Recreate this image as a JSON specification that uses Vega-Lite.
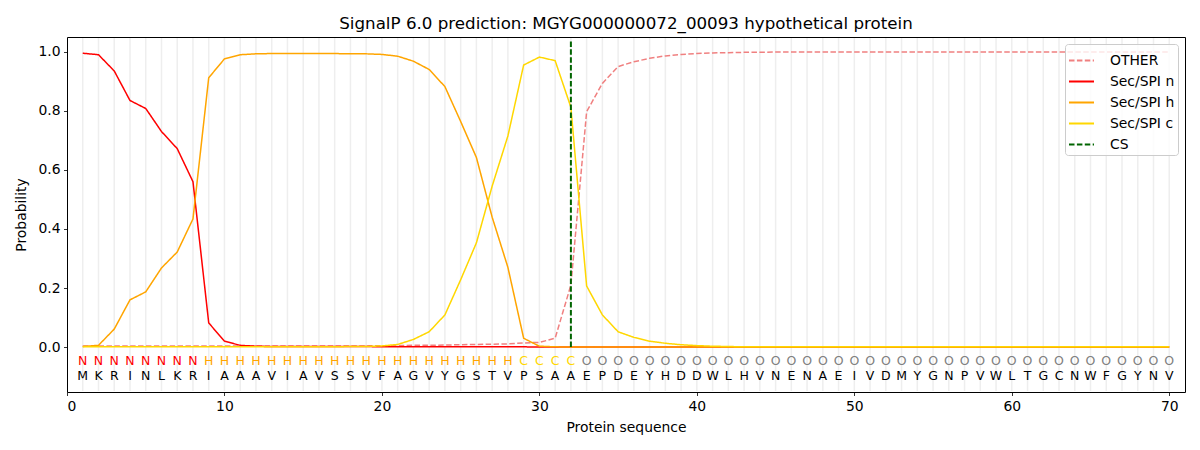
{
  "$schema": "https://vega.github.io/schema/vega-lite/v6.json",
  "description": "SignalP 6.0 per-residue probabilities",
  "width": 1118,
  "height": 355,
  "autosize": {"type": "none"},
  "padding": {"left": 67, "top": 37, "right": 15, "bottom": 58},
  "title": {
    "text": "SignalP 6.0 prediction: MGYG000000072_00093 hypothetical protein",
    "font": "DejaVu Sans",
    "fontSize": 16.7,
    "fontWeight": "normal",
    "color": "#000000",
    "anchor": "middle",
    "offset": 4
  },
  "datasets": {
    "seq": [
      {"pos": 1, "aa": "M", "reg": "N", "other": 0.004, "n": 0.995, "h": 0.002, "c": 0.001},
      {"pos": 2, "aa": "K", "reg": "N", "other": 0.004, "n": 0.99, "h": 0.006, "c": 0.001},
      {"pos": 3, "aa": "R", "reg": "N", "other": 0.004, "n": 0.935, "h": 0.061, "c": 0.001},
      {"pos": 4, "aa": "I", "reg": "N", "other": 0.004, "n": 0.835, "h": 0.16, "c": 0.001},
      {"pos": 5, "aa": "N", "reg": "N", "other": 0.004, "n": 0.808, "h": 0.187, "c": 0.001},
      {"pos": 6, "aa": "L", "reg": "N", "other": 0.004, "n": 0.73, "h": 0.268, "c": 0.001},
      {"pos": 7, "aa": "K", "reg": "N", "other": 0.004, "n": 0.672, "h": 0.322, "c": 0.001},
      {"pos": 8, "aa": "R", "reg": "N", "other": 0.004, "n": 0.56, "h": 0.434, "c": 0.001},
      {"pos": 9, "aa": "I", "reg": "H", "other": 0.004, "n": 0.082, "h": 0.912, "c": 0.001},
      {"pos": 10, "aa": "A", "reg": "H", "other": 0.004, "n": 0.02, "h": 0.976, "c": 0.001},
      {"pos": 11, "aa": "A", "reg": "H", "other": 0.004, "n": 0.006, "h": 0.99, "c": 0.001},
      {"pos": 12, "aa": "A", "reg": "H", "other": 0.004, "n": 0.003, "h": 0.993, "c": 0.001},
      {"pos": 13, "aa": "V", "reg": "H", "other": 0.004, "n": 0.002, "h": 0.994, "c": 0.001},
      {"pos": 14, "aa": "I", "reg": "H", "other": 0.004, "n": 0.002, "h": 0.994, "c": 0.001},
      {"pos": 15, "aa": "A", "reg": "H", "other": 0.004, "n": 0.002, "h": 0.994, "c": 0.001},
      {"pos": 16, "aa": "V", "reg": "H", "other": 0.004, "n": 0.002, "h": 0.994, "c": 0.001},
      {"pos": 17, "aa": "S", "reg": "H", "other": 0.004, "n": 0.002, "h": 0.994, "c": 0.001},
      {"pos": 18, "aa": "S", "reg": "H", "other": 0.004, "n": 0.002, "h": 0.993, "c": 0.002},
      {"pos": 19, "aa": "V", "reg": "H", "other": 0.004, "n": 0.002, "h": 0.993, "c": 0.002},
      {"pos": 20, "aa": "F", "reg": "H", "other": 0.005, "n": 0.001, "h": 0.991, "c": 0.004},
      {"pos": 21, "aa": "A", "reg": "H", "other": 0.005, "n": 0.001, "h": 0.985, "c": 0.009},
      {"pos": 22, "aa": "G", "reg": "H", "other": 0.006, "n": 0.001, "h": 0.968, "c": 0.026},
      {"pos": 23, "aa": "V", "reg": "H", "other": 0.006, "n": 0.001, "h": 0.94, "c": 0.052},
      {"pos": 24, "aa": "Y", "reg": "H", "other": 0.007, "n": 0.001, "h": 0.882, "c": 0.109},
      {"pos": 25, "aa": "G", "reg": "H", "other": 0.008, "n": 0.001, "h": 0.764, "c": 0.228},
      {"pos": 26, "aa": "S", "reg": "H", "other": 0.009, "n": 0.001, "h": 0.642, "c": 0.353},
      {"pos": 27, "aa": "T", "reg": "H", "other": 0.01, "n": 0.001, "h": 0.44, "c": 0.545},
      {"pos": 28, "aa": "V", "reg": "H", "other": 0.011, "n": 0.001, "h": 0.27, "c": 0.715},
      {"pos": 29, "aa": "P", "reg": "C", "other": 0.014, "n": 0.001, "h": 0.03, "c": 0.955},
      {"pos": 30, "aa": "S", "reg": "C", "other": 0.016, "n": 0.0, "h": 0.003, "c": 0.982},
      {"pos": 31, "aa": "A", "reg": "C", "other": 0.03, "n": 0.0, "h": 0.001, "c": 0.97},
      {"pos": 32, "aa": "A", "reg": "C", "other": 0.21, "n": 0.0, "h": 0.0, "c": 0.812},
      {"pos": 33, "aa": "E", "reg": "O", "other": 0.797, "n": 0.0, "h": 0.0, "c": 0.207},
      {"pos": 34, "aa": "P", "reg": "O", "other": 0.893, "n": 0.0, "h": 0.0, "c": 0.109},
      {"pos": 35, "aa": "D", "reg": "O", "other": 0.95, "n": 0.0, "h": 0.0, "c": 0.052},
      {"pos": 36, "aa": "E", "reg": "O", "other": 0.966, "n": 0.0, "h": 0.0, "c": 0.033},
      {"pos": 37, "aa": "Y", "reg": "O", "other": 0.978, "n": 0.0, "h": 0.0, "c": 0.02},
      {"pos": 38, "aa": "H", "reg": "O", "other": 0.986, "n": 0.0, "h": 0.0, "c": 0.013},
      {"pos": 39, "aa": "D", "reg": "O", "other": 0.991, "n": 0.0, "h": 0.0, "c": 0.008},
      {"pos": 40, "aa": "D", "reg": "O", "other": 0.994, "n": 0.0, "h": 0.0, "c": 0.005},
      {"pos": 41, "aa": "W", "reg": "O", "other": 0.996, "n": 0.0, "h": 0.0, "c": 0.003},
      {"pos": 42, "aa": "L", "reg": "O", "other": 0.997, "n": 0.0, "h": 0.0, "c": 0.002},
      {"pos": 43, "aa": "H", "reg": "O", "other": 0.998, "n": 0.0, "h": 0.0, "c": 0.001},
      {"pos": 44, "aa": "V", "reg": "O", "other": 0.998, "n": 0.0, "h": 0.0, "c": 0.001},
      {"pos": 45, "aa": "N", "reg": "O", "other": 0.999, "n": 0.0, "h": 0.0, "c": 0.001},
      {"pos": 46, "aa": "E", "reg": "O", "other": 0.999, "n": 0.0, "h": 0.0, "c": 0.001},
      {"pos": 47, "aa": "N", "reg": "O", "other": 0.999, "n": 0.0, "h": 0.0, "c": 0.001},
      {"pos": 48, "aa": "A", "reg": "O", "other": 0.999, "n": 0.0, "h": 0.0, "c": 0.001},
      {"pos": 49, "aa": "E", "reg": "O", "other": 0.999, "n": 0.0, "h": 0.0, "c": 0.001},
      {"pos": 50, "aa": "I", "reg": "O", "other": 0.999, "n": 0.0, "h": 0.0, "c": 0.001},
      {"pos": 51, "aa": "V", "reg": "O", "other": 0.999, "n": 0.0, "h": 0.0, "c": 0.001},
      {"pos": 52, "aa": "D", "reg": "O", "other": 0.999, "n": 0.0, "h": 0.0, "c": 0.001},
      {"pos": 53, "aa": "M", "reg": "O", "other": 0.999, "n": 0.0, "h": 0.0, "c": 0.001},
      {"pos": 54, "aa": "Y", "reg": "O", "other": 0.999, "n": 0.0, "h": 0.0, "c": 0.001},
      {"pos": 55, "aa": "G", "reg": "O", "other": 0.999, "n": 0.0, "h": 0.0, "c": 0.001},
      {"pos": 56, "aa": "N", "reg": "O", "other": 0.999, "n": 0.0, "h": 0.0, "c": 0.001},
      {"pos": 57, "aa": "P", "reg": "O", "other": 0.999, "n": 0.0, "h": 0.0, "c": 0.001},
      {"pos": 58, "aa": "V", "reg": "O", "other": 0.999, "n": 0.0, "h": 0.0, "c": 0.001},
      {"pos": 59, "aa": "W", "reg": "O", "other": 0.999, "n": 0.0, "h": 0.0, "c": 0.001},
      {"pos": 60, "aa": "L", "reg": "O", "other": 0.999, "n": 0.0, "h": 0.0, "c": 0.001},
      {"pos": 61, "aa": "T", "reg": "O", "other": 0.999, "n": 0.0, "h": 0.0, "c": 0.001},
      {"pos": 62, "aa": "G", "reg": "O", "other": 0.999, "n": 0.0, "h": 0.0, "c": 0.001},
      {"pos": 63, "aa": "C", "reg": "O", "other": 0.999, "n": 0.0, "h": 0.0, "c": 0.001},
      {"pos": 64, "aa": "N", "reg": "O", "other": 0.999, "n": 0.0, "h": 0.0, "c": 0.001},
      {"pos": 65, "aa": "W", "reg": "O", "other": 0.999, "n": 0.0, "h": 0.0, "c": 0.001},
      {"pos": 66, "aa": "F", "reg": "O", "other": 0.999, "n": 0.0, "h": 0.0, "c": 0.001},
      {"pos": 67, "aa": "G", "reg": "O", "other": 0.999, "n": 0.0, "h": 0.0, "c": 0.001},
      {"pos": 68, "aa": "Y", "reg": "O", "other": 0.999, "n": 0.0, "h": 0.0, "c": 0.001},
      {"pos": 69, "aa": "N", "reg": "O", "other": 0.999, "n": 0.0, "h": 0.0, "c": 0.001},
      {"pos": 70, "aa": "V", "reg": "O", "other": 0.999, "n": 0.0, "h": 0.0, "c": 0.001}
    ],
    "cleavage": [
      {"series": "cs", "pos": 32}
    ]
  },
  "data": {"name": "seq"},
  "layer": [
    {
      "mark": {"type": "rule", "color": "#eeeeee", "strokeWidth": 1.5},
      "encoding": {
        "x": {
          "field": "pos",
          "type": "quantitative",
          "scale": {"domain": [0, 71], "nice": false, "zero": false},
          "axis": {
            "values": [0, 10, 20, 30, 40, 50, 60, 70],
            "title": "Protein sequence",
            "titlePadding": 8
          }
        },
        "y": {"datum": -0.149},
        "y2": {"datum": 1.047}
      }
    },
    {
      "transform": [
        {"fold": ["other", "n", "h", "c"], "as": ["series", "prob"]}
      ],
      "mark": {"type": "line", "strokeWidth": 1.5},
      "encoding": {
        "x": {"field": "pos", "type": "quantitative"},
        "y": {
          "field": "prob",
          "type": "quantitative",
          "scale": {"domain": [-0.152, 1.05], "nice": false, "zero": false},
          "axis": {
            "values": [0, 0.2, 0.4, 0.6, 0.8, 1.0],
            "format": ".1f",
            "title": "Probability",
            "titlePadding": 9
          }
        },
        "color": {
          "field": "series",
          "type": "nominal",
          "scale": {
            "domain": ["other", "n", "h", "c", "cs"],
            "range": ["#f08080", "#ff0000", "#ffa500", "#ffd700", "#006400"]
          },
          "legend": {
            "title": null,
            "labelExpr": "{'other': 'OTHER', 'n': 'Sec/SPI n', 'h': 'Sec/SPI h', 'c': 'Sec/SPI c', 'cs': 'CS'}[datum.label]"
          }
        },
        "strokeDash": {
          "field": "series",
          "type": "nominal",
          "scale": {
            "domain": ["other", "n", "h", "c", "cs"],
            "range": [[5.5, 2.4], [1, 0], [1, 0], [1, 0], [5.5, 2.4]]
          },
          "legend": {
            "title": null,
            "labelExpr": "{'other': 'OTHER', 'n': 'Sec/SPI n', 'h': 'Sec/SPI h', 'c': 'Sec/SPI c', 'cs': 'CS'}[datum.label]"
          }
        }
      }
    },
    {
      "data": {"name": "cleavage"},
      "mark": {"type": "rule", "strokeWidth": 2},
      "encoding": {
        "x": {"field": "pos", "type": "quantitative"},
        "y": {"datum": 0},
        "y2": {"datum": 1.035},
        "color": {"field": "series", "type": "nominal"},
        "strokeDash": {"field": "series", "type": "nominal"}
      }
    },
    {
      "mark": {"type": "text", "font": "DejaVu Sans", "fontSize": 12.5, "baseline": "middle"},
      "encoding": {
        "x": {"field": "pos", "type": "quantitative"},
        "y": {"datum": -0.0475},
        "text": {"field": "reg"},
        "fill": {
          "field": "reg",
          "type": "nominal",
          "scale": {
            "domain": ["N", "H", "C", "O"],
            "range": ["#ff0000", "#ffa500", "#ffd700", "#808080"]
          },
          "legend": null
        }
      }
    },
    {
      "mark": {"type": "text", "font": "DejaVu Sans", "fontSize": 12.5, "baseline": "middle", "color": "#000000"},
      "encoding": {
        "x": {"field": "pos", "type": "quantitative"},
        "y": {"datum": -0.097},
        "text": {"field": "aa"}
      }
    }
  ],
  "config": {
    "font": "DejaVu Sans",
    "view": {"stroke": "#000000", "strokeWidth": 1},
    "axis": {
      "grid": false,
      "domain": false,
      "ticks": true,
      "tickSize": 3.5,
      "tickColor": "#000000",
      "tickWidth": 0.8,
      "labelFont": "DejaVu Sans",
      "labelFontSize": 13.9,
      "labelColor": "#000000",
      "labelPadding": 3.5,
      "titleFont": "DejaVu Sans",
      "titleFontSize": 13.9,
      "titleFontWeight": "normal",
      "titleColor": "#000000"
    },
    "legend": {
      "orient": "top-right",
      "offset": 7,
      "padding": 3,
      "fillColor": "rgba(255,255,255,0.8)",
      "strokeColor": "#cccccc",
      "cornerRadius": 3,
      "labelFont": "DejaVu Sans",
      "labelFontSize": 13.9,
      "labelColor": "#000000",
      "symbolType": "stroke",
      "symbolSize": 625,
      "symbolStrokeWidth": 2,
      "rowPadding": -1.5,
      "labelOffset": 15
    }
  }
}
